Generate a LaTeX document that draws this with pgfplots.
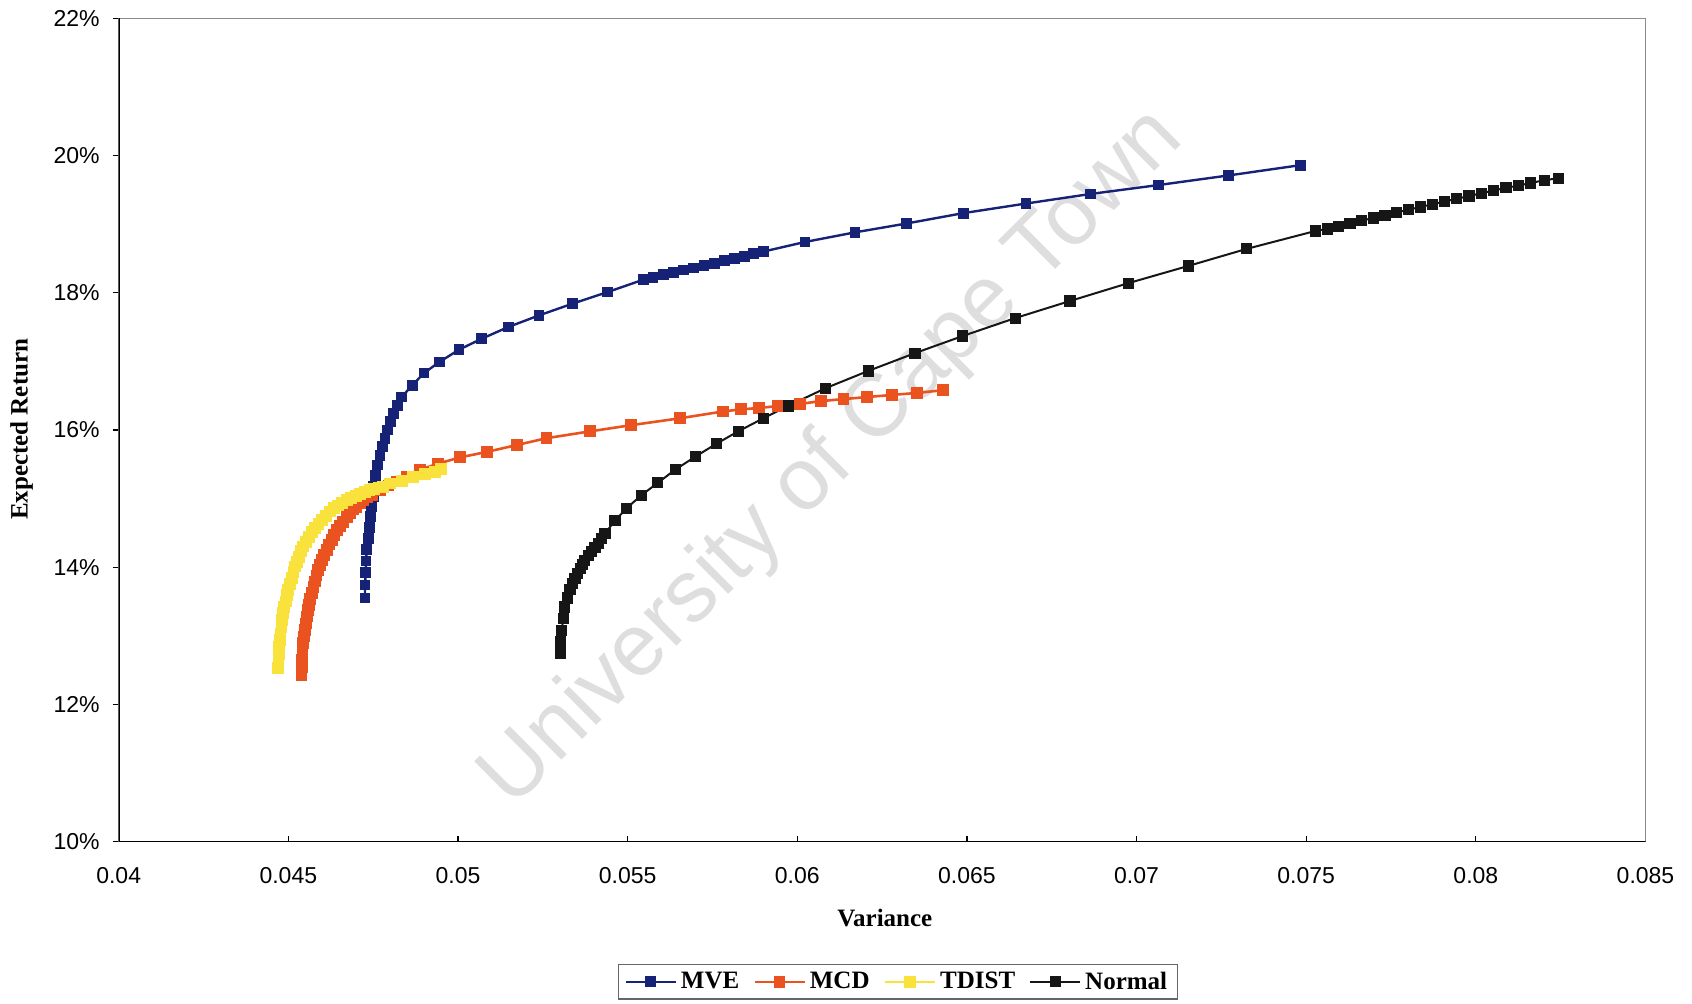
\documentclass[border=0pt]{standalone}
\usepackage{fontspec}
\setmainfont{Liberation Serif}
\setsansfont{Liberation Sans}
\usepackage{pgfplots}
\pgfplotsset{compat=1.18}
\definecolor{mve}{RGB}{22,34,118}
\definecolor{mcd}{RGB}{234,82,32}
\definecolor{tdist}{RGB}{250,226,60}
\definecolor{normal}{RGB}{22,22,22}
\definecolor{wm}{RGB}{222,222,222}
\begin{document}
\begin{tikzpicture}
\path[use as bounding box] (0,0) rectangle (846pt,501.5pt);
\node[rotate=44.8, text=wm, font=\sffamily\fontsize{44}{44}\selectfont, inner sep=0pt] at (416.5pt,272.2pt) {University of Cape Town};
\begin{axis}[
  at={(59.35pt,80.7pt)}, anchor=south west,
  scale only axis, width=763.4pt, height=411.65pt,
  xmin=0.04, xmax=0.085, ymin=10, ymax=22,
  scaled x ticks=false, scaled y ticks=false,
  xtick={0.04,0.045,0.05,0.055,0.06,0.065,0.07,0.075,0.08,0.085},
  xticklabels={0.04,0.045,0.05,0.055,0.06,0.065,0.07,0.075,0.08,0.085},
  ytick={10,12,14,16,18,20,22},
  yticklabels={10\%,12\%,14\%,16\%,18\%,20\%,22\%},
  xtick pos=left, ytick pos=left,
  tick align=inside, major tick length=3pt,
  tick style={black, line width=0.6pt},
  ytick style={xshift=-3pt},
  ticklabel style={font=\sffamily\fontsize{11.5}{12}\selectfont},
  yticklabel style={xshift=-6pt},
  xticklabel style={yshift=-9.3pt},
  axis line style={draw=black!45, line width=0.8pt},
  xlabel={Variance}, ylabel={Expected Return},
  label style={font=\bfseries\fontsize{12.5}{14}\selectfont},
  xlabel style={at={(axis description cs:0.5018,-0.0932)}, anchor=center},
  ylabel style={at={(axis description cs:-0.0636,0.5007)}, anchor=center},
  legend columns=4,
  legend style={at={(0.5103,-0.1704)}, anchor=center, draw=black!60, line width=0.6pt,
    font=\bfseries\fontsize{12.5}{14}\selectfont, inner xsep=3pt, inner ysep=1.5pt,
    /tikz/every even column/.append style={column sep=5pt}},
  legend cell align=left,
  legend image code/.code={\draw[mark repeat=2,mark phase=2,#1] plot coordinates {(0pt,0pt) (12.5pt,0pt) (25pt,0pt)};},
]
% MVE
\addplot[mve, line width=1.2pt, mark=square*, mark size=2.1pt, mark options={solid}] coordinates {
(0.04726,13.55) (0.04726,13.74) (0.04728,13.92) (0.04729,14.09) (0.04731,14.26)
(0.04736,14.42) (0.04739,14.58) (0.04743,14.74) (0.04746,14.88) (0.04750,15.03)
(0.04752,15.17) (0.04756,15.34) (0.04762,15.49) (0.04770,15.63) (0.04777,15.76)
(0.04785,15.88) (0.04793,16.00) (0.04802,16.12) (0.04811,16.24) (0.04822,16.36)
(0.04834,16.48) (0.04865,16.65) (0.04900,16.83) (0.04945,16.99) (0.05003,17.17)
(0.05070,17.33) (0.05148,17.50) (0.05239,17.67) (0.05337,17.84) (0.05441,18.01)
(0.05546,18.19) (0.05575,18.22) (0.05605,18.26) (0.05635,18.29) (0.05665,18.33)
(0.05695,18.36) (0.05725,18.40) (0.05755,18.43) (0.05785,18.47) (0.05815,18.50)
(0.05845,18.53) (0.05872,18.57) (0.05900,18.60) (0.06023,18.74) (0.06170,18.88)
(0.06323,19.01) (0.06489,19.16) (0.06674,19.30) (0.06865,19.44) (0.07065,19.57)
(0.07272,19.71) (0.07484,19.86)
};
\addlegendentry{MVE}
% MCD
\addplot[mcd, line width=1.3pt, mark=square*, mark size=2.3pt, mark options={solid}] coordinates {
(0.04539,12.43) (0.04540,12.54) (0.04541,12.65) (0.04542,12.77) (0.04544,12.89)
(0.04546,12.99) (0.04548,13.08) (0.04551,13.18) (0.04554,13.28) (0.04557,13.37)
(0.04561,13.45) (0.04565,13.54) (0.04569,13.62) (0.04574,13.71) (0.04579,13.79)
(0.04583,13.88) (0.04588,13.96) (0.04594,14.03) (0.04600,14.10) (0.04606,14.18)
(0.04613,14.25) (0.04620,14.33) (0.04628,14.40) (0.04635,14.47) (0.04643,14.54)
(0.04652,14.60) (0.04662,14.66) (0.04672,14.73) (0.04682,14.79) (0.04691,14.84)
(0.04701,14.88) (0.04711,14.93) (0.04721,14.98) (0.04733,15.02) (0.04746,15.05)
(0.04770,15.12) (0.04795,15.19)
(0.04819,15.25) (0.04849,15.32) (0.04888,15.42) (0.04942,15.51) (0.05006,15.60)
(0.05085,15.68) (0.05173,15.78) (0.05261,15.88) (0.05390,15.98) (0.05511,16.07)
(0.05654,16.17) (0.05782,16.27) (0.05833,16.30) (0.05888,16.32) (0.05944,16.35)
(0.06008,16.38) (0.06069,16.42) (0.06136,16.45) (0.06206,16.48) (0.06278,16.51)
(0.06354,16.54) (0.06430,16.58)
};
\addlegendentry{MCD}
% TDIST
\addplot[tdist, line width=1.3pt, mark=square*, mark size=2.3pt, mark options={solid}] coordinates {
(0.04470,12.53) (0.04471,12.64) (0.04472,12.74) (0.04473,12.84) (0.04475,12.94)
(0.04477,13.03) (0.04480,13.13) (0.04482,13.23) (0.04485,13.33) (0.04488,13.42)
(0.04492,13.50) (0.04496,13.59) (0.04500,13.67) (0.04505,13.76) (0.04510,13.84)
(0.04515,13.93) (0.04520,14.01) (0.04525,14.08) (0.04531,14.15) (0.04537,14.23)
(0.04544,14.30) (0.04552,14.37) (0.04561,14.44) (0.04570,14.51) (0.04579,14.57)
(0.04589,14.63) (0.04600,14.69) (0.04611,14.75) (0.04623,14.81) (0.04635,14.86)
(0.04647,14.90) (0.04659,14.94) (0.04672,14.98) (0.04685,15.01) (0.04699,15.04)
(0.04712,15.07) (0.04726,15.10) (0.04739,15.12) (0.04752,15.14) (0.04766,15.16)
(0.04780,15.17) (0.04800,15.22) (0.04834,15.26) (0.04868,15.32) (0.04903,15.36)
(0.04932,15.39) (0.04950,15.43)
};
\addlegendentry{TDIST}
% Normal
\addplot[normal, line width=1.0pt, mark=square*, mark size=2.3pt, mark options={solid}] coordinates {
(0.05301,12.74) (0.05303,12.91) (0.05306,13.08) (0.05310,13.25) (0.05315,13.42)
(0.05322,13.55) (0.05330,13.67) (0.05337,13.76) (0.05345,13.84) (0.05352,13.91)
(0.05360,13.98) (0.05367,14.04) (0.05374,14.10) (0.05384,14.17) (0.05394,14.23)
(0.05404,14.29) (0.05414,14.35) (0.05423,14.42) (0.05433,14.49)
(0.05463,14.68) (0.05497,14.86) (0.05541,15.05) (0.05589,15.23) (0.05640,15.42)
(0.05699,15.61) (0.05762,15.80) (0.05826,15.98) (0.05900,16.17) (0.05973,16.35)
(0.06084,16.61) (0.06209,16.86) (0.06347,17.12) (0.06488,17.37) (0.06642,17.63)
(0.06804,17.88) (0.06976,18.14) (0.07152,18.39) (0.07325,18.64) (0.07527,18.90)
(0.07562,18.93) (0.07595,18.97) (0.07629,19.01) (0.07663,19.05) (0.07698,19.09)
(0.07732,19.13) (0.07766,19.17) (0.07801,19.21) (0.07837,19.25) (0.07872,19.29)
(0.07908,19.33) (0.07944,19.37) (0.07980,19.41) (0.08016,19.45) (0.08053,19.49)
(0.08089,19.53) (0.08125,19.56) (0.08161,19.60) (0.08203,19.64) (0.08244,19.67)
};
\addlegendentry{Normal}
\draw[black, line width=1pt] (rel axis cs:0,1) -- (rel axis cs:0,0) -- (rel axis cs:1,0);
\end{axis}
\end{tikzpicture}
\end{document}
